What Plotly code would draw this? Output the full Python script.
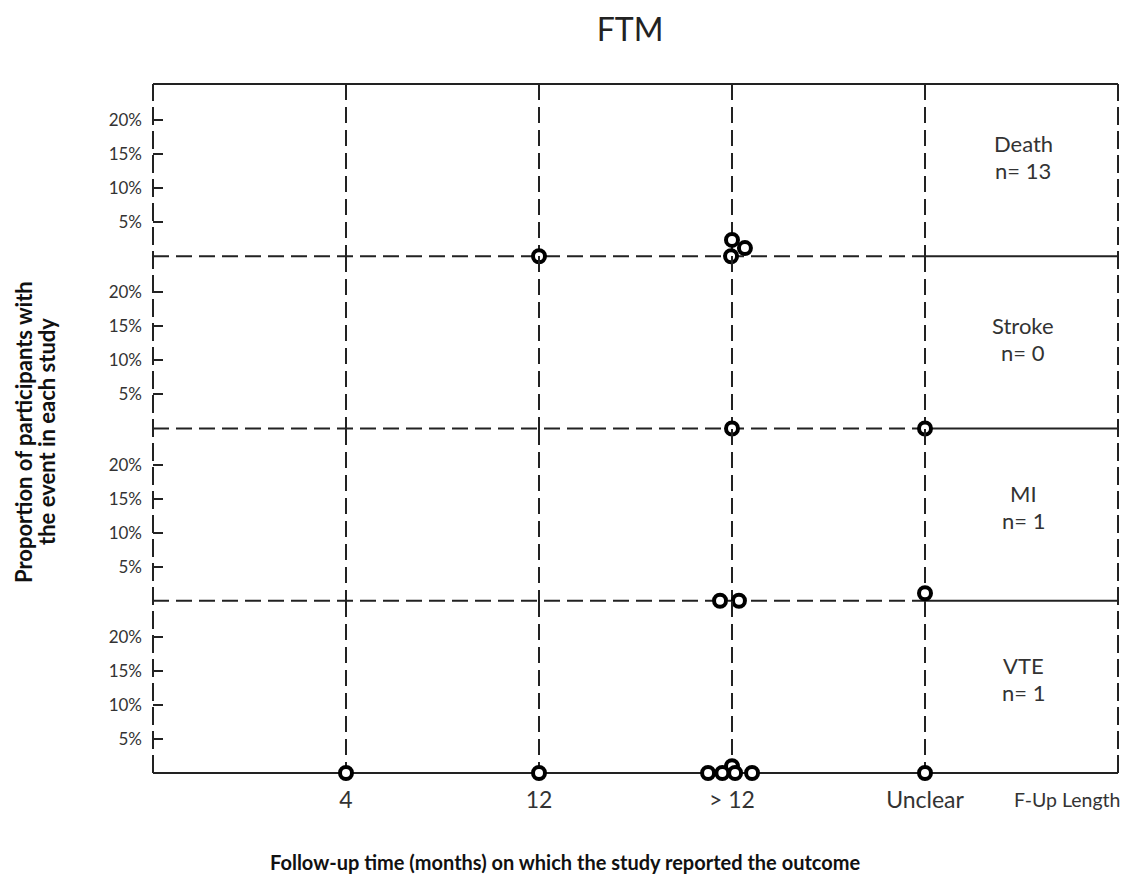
import plotly.graph_objects as go
from plotly.subplots import make_subplots

# ---------------- data ----------------
categories = ["4", "12", "> 12", "Unclear"]
outcomes = ["Death", "Stroke", "MI", "VTE"]
n_counts = [13, 0, 1, 1]
pct_ticks = [5, 10, 15, 20]
pct_labels = ["5%", "10%", "15%", "20%"]

death_cat = ["12", "> 12", "> 12", "> 12"]
death_jit = [0.0, 0.0, 0.067, -0.005]
death_pct = [0.0, 2.4, 1.2, 0.0]

stroke_cat = ["> 12", "Unclear"]
stroke_jit = [0.0, 0.0]
stroke_pct = [0.0, 0.0]

mi_cat = ["> 12", "> 12", "Unclear"]
mi_jit = [-0.062, 0.036, 0.0]
mi_pct = [0.0, 0.0, 1.1]

vte_cat = ["4", "12", "> 12", "> 12", "> 12", "> 12", "> 12", "Unclear"]
vte_jit = [0.0, 0.0, 0.0, -0.124, -0.05, 0.016, 0.104, 0.0]
vte_pct = [0.0, 0.0, 1.0, 0.0, 0.0, 0.0, 0.0, 0.0]

panels = [
    (death_cat, death_jit, death_pct),
    (stroke_cat, stroke_jit, stroke_pct),
    (mi_cat, mi_jit, mi_pct),
    (vte_cat, vte_jit, vte_pct),
]

# ---------------- style ----------------
FONT = "Lato, 'Open Sans', sans-serif"
LINE = "#222222"
TXT = "#333333"
DASH = "16px,7px"
YMAX = 25.3
label_y = [0.58, 0.525, 0.55, 0.55]  # vertical placement of the panel labels (domain fraction)

cat_pos = {c: i + 1 for i, c in enumerate(categories)}

fig = make_subplots(rows=4, cols=1, shared_xaxes=True, vertical_spacing=0)

for r, (cats, jit, pct) in enumerate(panels, start=1):
    xs = [cat_pos[c] + j for c, j in zip(cats, jit)]
    fig.add_trace(
        go.Scatter(
            x=xs, y=pct, mode="markers", cliponaxis=False, showlegend=False,
            marker=dict(size=12, color="white", line=dict(color="black", width=4)),
        ),
        row=r, col=1,
    )
    fig.update_yaxes(
        range=[0, YMAX], tickvals=pct_ticks, ticktext=pct_labels,
        ticks="inside", ticklen=10, tickwidth=2, tickcolor=LINE,
        showgrid=False, zeroline=False, showline=False,
        tickfont=dict(size=17, color=TXT, family=FONT),
        ticklabelstandoff=10,
        row=r, col=1,
    )
    fig.update_xaxes(
        range=[0, 5], tickvals=[cat_pos[c] for c in categories], ticktext=categories,
        showgrid=True, gridcolor=LINE, gridwidth=2, griddash=DASH,
        zeroline=False, showline=False, ticks="",
        showticklabels=(r == 4),
        tickfont=dict(size=23, color=TXT, family=FONT),
        ticklabelstandoff=11,
        row=r, col=1,
    )
    # panel label
    yref = "y domain" if r == 1 else f"y{r} domain"
    fig.add_annotation(
        xref="paper", yref=yref, x=0.9016, y=label_y[r - 1], xanchor="center", yanchor="middle",
        text=outcomes[r - 1], showarrow=False, yshift=13,
        font=dict(size=22, color=TXT, family=FONT),
    )
    fig.add_annotation(
        xref="paper", yref=yref, x=0.9016, y=label_y[r - 1], xanchor="center", yanchor="middle",
        text=f"n= {n_counts[r - 1]}", showarrow=False, yshift=-14,
        font=dict(size=22, color=TXT, family=FONT),
    )

shapes = []
# frame
shapes.append(dict(type="line", xref="paper", yref="paper", x0=0, x1=0, y0=0, y1=1,
                   line=dict(color=LINE, width=2, dash="18px,6px")))
shapes.append(dict(type="line", xref="paper", yref="paper", x0=1, x1=1, y0=0, y1=1,
                   line=dict(color=LINE, width=2, dash="18px,6px")))
shapes.append(dict(type="line", xref="paper", yref="paper", x0=0, x1=1, y0=1, y1=1,
                   line=dict(color=LINE, width=2)))
shapes.append(dict(type="line", xref="paper", yref="paper", x0=0, x1=1, y0=0, y1=0,
                   line=dict(color=LINE, width=2)))
# panel separators: dashed up to "Unclear", solid after
for k in (1, 2, 3):
    yb = k / 4
    shapes.append(dict(type="line", xref="x4", yref="paper", x0=0, x1=cat_pos["Unclear"],
                       y0=yb, y1=yb, line=dict(color=LINE, width=2, dash=DASH)))
    shapes.append(dict(type="line", xref="x4", yref="paper", x0=cat_pos["Unclear"], x1=5,
                       y0=yb, y1=yb, line=dict(color=LINE, width=2)))
for s in shapes:
    s["layer"] = "below"

fig.update_layout(
    width=1128, height=879,
    margin=dict(l=145, r=18, t=76, b=114),
    plot_bgcolor="white", paper_bgcolor="white",
    shapes=shapes,
    font=dict(family=FONT, color="#222222"),
    title=dict(text="FTM", x=0.5515, xanchor="center", y=0.975, yanchor="middle",
               font=dict(size=32, color="#222222", family=FONT)),
)

fig.add_annotation(
    xref="paper", yref="paper", x=0.89, y=0, yshift=-26, xanchor="left", yanchor="middle",
    text="F-Up Length", showarrow=False,
    font=dict(size=19.5, color=TXT, family=FONT),
)
fig.add_annotation(
    xref="paper", yref="paper", x=0.427, y=-0.129, xanchor="center", yanchor="middle",
    text="<b>Follow-up time (months) on which the study reported the outcome</b>",
    showarrow=False, font=dict(size=20, color="#111111", family=FONT),
)
fig.add_annotation(
    xref="paper", yref="paper", x=-0.1212, y=0.495, xanchor="center", yanchor="middle",
    textangle=-90, xshift=-12,
    text="<b>Proportion of participants with</b>",
    showarrow=False, font=dict(size=22, color="#111111", family=FONT),
)
fig.add_annotation(
    xref="paper", yref="paper", x=-0.1212, y=0.495, xanchor="center", yanchor="middle",
    textangle=-90, xshift=11,
    text="<b>the event in each study</b>",
    showarrow=False, font=dict(size=22, color="#111111", family=FONT),
)

fig.write_html("out.html")
